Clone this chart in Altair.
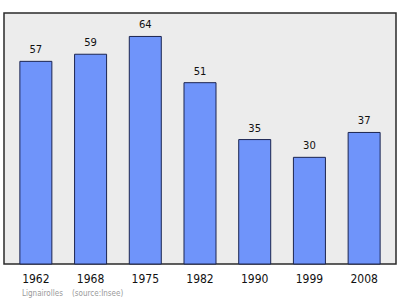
import altair as alt
import pandas as pd

years = ["1962", "1968", "1975", "1982", "1990", "1999", "2008"]
population = [57, 59, 64, 51, 35, 30, 37]

df = pd.DataFrame({"year": years, "pop": population})

x_enc = alt.X(
    "year:N",
    sort=years,
    scale=alt.Scale(paddingInner=0.415, paddingOuter=0.29),
    axis=alt.Axis(
        title=None,
        labelAngle=0,
        ticks=False,
        domain=False,
        labelFont="DejaVu Sans Condensed",
        labelFontSize=12,
        labelFontWeight="normal",
        labelColor="#111111",
        labelPadding=9,
    ),
)
y_enc = alt.Y(
    "pop:Q",
    scale=alt.Scale(domain=[0, 70.6], nice=False),
    axis=None,
)

bars = alt.Chart(df).mark_bar(
    color="#6f94fa", stroke="#1c2550", strokeWidth=1
).encode(x=x_enc, y=y_enc)

labels = alt.Chart(df).mark_text(
    baseline="bottom", dy=-6, font="DejaVu Sans", fontSize=10, color="#111111"
).encode(x=x_enc, y=y_enc, text="pop:Q")

chart = (
    (bars + labels)
    .properties(
        width=392,
        height=251,
        autosize=alt.AutoSizeParams(type="none"),
        padding={"left": 4, "top": 13, "right": 4, "bottom": 35},
        view=alt.ViewBackground(fill="#ececec", stroke="#2a2a2a", strokeWidth=1.5),
        title=alt.TitleParams(
            "Lignairolles\u00a0\u00a0\u00a0\u00a0(source:Insee)",
            orient="bottom",
            anchor="start",
            font="DejaVu Sans Condensed",
            fontSize=8,
            fontWeight="normal",
            color="#9a9a9a",
            dx=18,
            offset=6,
        ),
    )
    .configure(background="white")
)

chart.save("out.html", embed_options={"renderer": "svg", "actions": False})
